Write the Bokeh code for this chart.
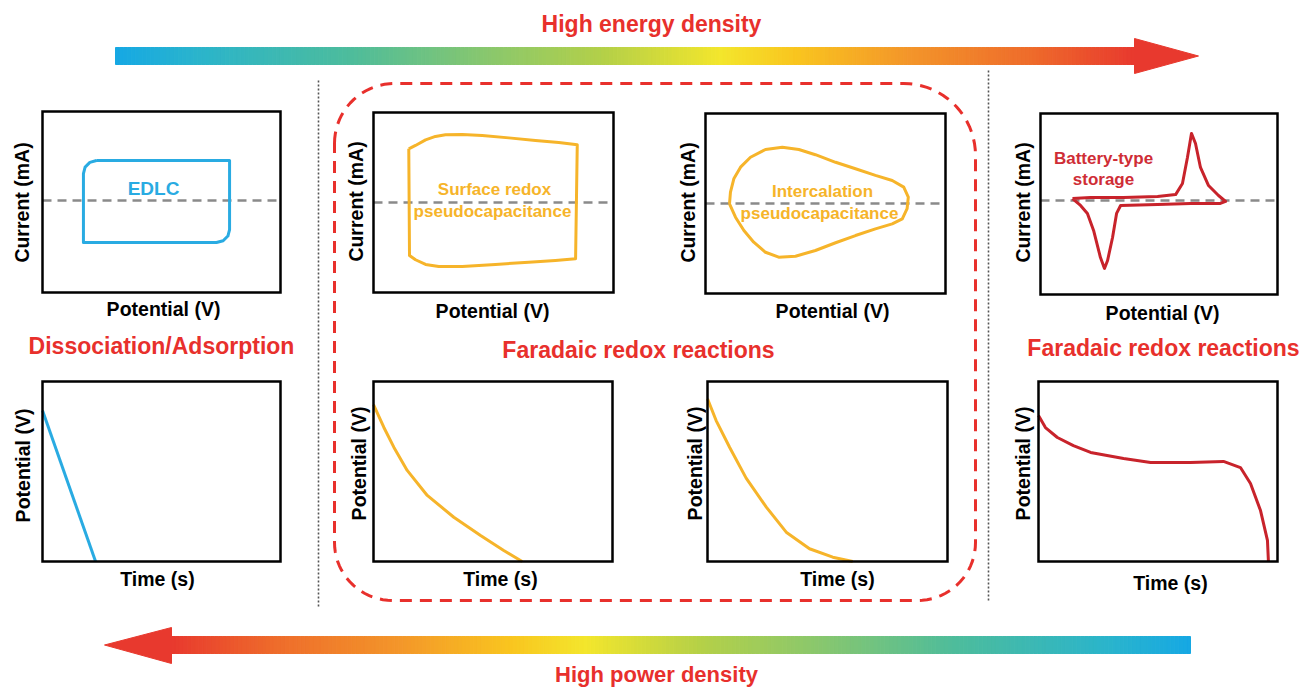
import numpy as np
from bokeh.plotting import figure
from bokeh.models import Range1d
from bokeh.core.properties import value
from bokeh.embed import file_html
from bokeh.resources import INLINE

# ---------------- data (normalised panel units) ----------------
# Cyclic voltammograms: potential (0..1) vs current (0..1)
edlc_cv_v = [0.227, 0.786, 0.786, 0.779, 0.759, 0.731, 0.172, 0.172, 0.179, 0.199, 0.227]
edlc_cv_i = [0.729, 0.729, 0.348, 0.312, 0.286, 0.276, 0.276, 0.657, 0.693, 0.719, 0.729]

surface_cv_v = [0.147, 0.175, 0.217, 0.258, 0.300, 0.370, 0.453, 0.564, 0.675, 0.772, 0.849,
                0.842, 0.758, 0.647, 0.508, 0.370, 0.272, 0.217, 0.175, 0.150, 0.147]
surface_cv_i = [0.798, 0.817, 0.848, 0.867, 0.876, 0.878, 0.872, 0.859, 0.844, 0.833, 0.821,
                0.187, 0.178, 0.168, 0.156, 0.144, 0.144, 0.156, 0.182, 0.206, 0.798]

intercal_cv_v = [0.100, 0.104, 0.118, 0.146, 0.1875, 0.25, 0.320, 0.389, 0.458, 0.542, 0.625,
                 0.708, 0.778, 0.826, 0.845, 0.840, 0.820, 0.778, 0.708, 0.625, 0.542, 0.458,
                 0.375, 0.305, 0.25, 0.201, 0.160, 0.125, 0.100]
intercal_cv_i = [0.498, 0.563, 0.637, 0.702, 0.757, 0.800, 0.813, 0.800, 0.771, 0.729, 0.693,
                 0.656, 0.628, 0.591, 0.535, 0.471, 0.415, 0.387, 0.359, 0.322, 0.282, 0.239,
                 0.207, 0.202, 0.229, 0.285, 0.350, 0.424, 0.498]

battery_cv_v = [0.135, 0.211, 0.350, 0.494, 0.570, 0.599, 0.620, 0.637, 0.654, 0.675, 0.709,
                0.751, 0.781, 0.759, 0.633, 0.494, 0.338, 0.321, 0.304, 0.283, 0.270, 0.253,
                0.224, 0.198, 0.169, 0.135]
battery_cv_i = [0.530, 0.536, 0.536, 0.541, 0.552, 0.613, 0.757, 0.890, 0.834, 0.702, 0.602,
                0.547, 0.514, 0.503, 0.503, 0.497, 0.492, 0.448, 0.315, 0.188, 0.144, 0.204,
                0.354, 0.448, 0.492, 0.530]

cv_zero = [0.508, 0.50, 0.50, 0.519]

# Galvanostatic discharge: time (0..1) vs potential (0..1)
edlc_gcd_t = [0.0, 0.223]
edlc_gcd_v = [0.839, 0.0]
surface_gcd_t = [0.0, 0.043, 0.085, 0.141, 0.225, 0.336, 0.448, 0.545, 0.622]
surface_gcd_v = [0.872, 0.746, 0.635, 0.506, 0.367, 0.246, 0.144, 0.061, 0.0]
intercal_gcd_t = [0.0, 0.036, 0.092, 0.161, 0.245, 0.328, 0.425, 0.522, 0.605]
intercal_gcd_v = [0.904, 0.783, 0.635, 0.463, 0.302, 0.163, 0.071, 0.024, 0.0]
battery_gcd_t = [0.0, 0.029, 0.079, 0.146, 0.218, 0.356, 0.469, 0.636, 0.774, 0.845, 0.887,
                 0.929, 0.958, 0.962]
battery_gcd_v = [0.811, 0.744, 0.689, 0.644, 0.606, 0.572, 0.55, 0.55, 0.556, 0.522, 0.433,
                 0.283, 0.117, 0.0]

# Texts
energy_text = "High energy density"
power_text = "High power density"
section_titles = ["Dissociation/Adsorption", "Faradaic redox reactions", "Faradaic redox reactions"]
cv_xlabel = "Potential (V)"
cv_ylabel = "Current (mA)"
gcd_xlabel = "Time (s)"
gcd_ylabel = "Potential (V)"
edlc_name = "EDLC"
surface_name = ["Surface redox", "pseudocapacitance"]
intercal_name = ["Intercalation", "pseudocapacitance"]
battery_name = ["Battery-type", "storage"]

# Gradient stops (blue -> red)
grad_pos = [0.0, 0.08, 0.23, 0.375, 0.48, 0.594, 0.668, 0.78, 0.90, 1.0]
grad_col = ["#16a8e4", "#2ab4cc", "#4dbc9c", "#8dc86a", "#b4d048", "#f3e62c",
            "#f9c51f", "#f3952a", "#ee6b2b", "#e8392e"]

# ---------------- styles ----------------
FONT = value("Liberation Sans")
RED = "#e8302c"
BLUE = "#29abe2"
YEL = "#f6b42a"
DRED = "#c8232b"
BRED = "#cf2d36"

p = figure(width=1300, height=690, x_range=Range1d(0, 1300), y_range=Range1d(690, 0),
           output_backend="svg", toolbar_location=None, x_axis_location=None,
           y_axis_location=None, min_border=0, outline_line_color=None)
p.grid.visible = False


def hex_rgb(h):
    return np.array([int(h[i:i + 2], 16) for i in (1, 3, 5)], dtype=float)


rgb = np.array([hex_rgb(c) for c in grad_col])


def grad_colors(t):
    out = []
    for tt in t:
        c = [np.interp(tt, grad_pos, rgb[:, k]) for k in range(3)]
        out.append("#%02x%02x%02x" % tuple(int(round(v)) for v in c))
    return out


def gradient_arrow(x_blue, x_red, y_top, y_bot, tip_x, head_top, head_bot):
    n = 260
    edges = np.linspace(x_blue, x_red, n + 1)
    lefts = np.minimum(edges[:-1], edges[1:])
    rights = np.maximum(edges[:-1], edges[1:])
    t = (np.arange(n) + 0.5) / n
    cols = grad_colors(t)
    p.quad(left=lefts, right=rights, top=y_top, bottom=y_bot, fill_color=cols,
           line_color=cols, line_width=1)
    ymid = (y_top + y_bot) / 2
    p.patch(x=[x_red, tip_x, x_red], y=[head_top, ymid, head_bot], fill_color=grad_col[-1],
            line_color=grad_col[-1], line_width=1)


gradient_arrow(115, 1134, 47, 64, 1198, 38, 73)
gradient_arrow(1190, 171, 636, 653, 104, 627, 663)


def label(x, y, txt, size, color, angle=0.0):
    p.text(x=[x], y=[y], text=[txt], text_font=FONT, text_font_style="bold",
           text_font_size=f"{size}px", text_color=color, text_align="center",
           text_baseline="middle", angle=angle)


label(651, 23, energy_text, 23, RED)
label(656, 674, power_text, 22, RED)
label(161, 345, section_titles[0], 23, RED)
label(638, 349, section_titles[1], 23, RED)
label(1163, 347, section_titles[2], 23, RED)

# dotted separators
p.line(x=[318, 318], y=[80, 608], line_color="#555555", line_width=1.6, line_dash="2 2")
p.line(x=[988, 988], y=[70, 600], line_color="#555555", line_width=1.6, line_dash="2 2")

# red dashed rounded box
L, R_, T, B = 334, 975, 83, 600
rtl, rtr, rbr, rbl = 60, 72, 58, 58


def arc(cx, cy, r, a0, a1):
    a = np.linspace(a0, a1, 20)
    return list(cx + r * np.cos(a)), list(cy + r * np.sin(a))


bx, by = [], []
for (cx, cy, r, a0, a1) in [(L + rtl, T + rtl, rtl, np.pi, 1.5 * np.pi),
                            (R_ - rtr, T + rtr, rtr, 1.5 * np.pi, 2 * np.pi),
                            (R_ - rbr, B - rbr, rbr, 0, 0.5 * np.pi),
                            (L + rbl, B - rbl, rbl, 0.5 * np.pi, np.pi)]:
    ax, ay = arc(cx, cy, r, a0, a1)
    bx += ax
    by += ay
bx.append(bx[0])
by.append(by[0])
p.line(x=bx, y=by, line_color=RED, line_width=3, line_dash="12 8")

# panels: (left, right, bottom, top) in page units
top_boxes = [(42, 280, 292, 111), (373, 613, 292, 112), (705, 945, 293, 113), (1040, 1277, 294, 113)]
bot_boxes = [(42, 280, 561, 381), (373, 612, 561, 381), (707, 947, 561, 381), (1038, 1277, 561, 381)]


def panel(box):
    l, r, b, t = box
    return p.subplot(x_source=Range1d(0, 1), y_source=Range1d(0, 1),
                     x_target=Range1d(l, r), y_target=Range1d(b, t))


cv_sets = [(edlc_cv_v, edlc_cv_i, BLUE), (surface_cv_v, surface_cv_i, YEL),
           (intercal_cv_v, intercal_cv_i, YEL), (battery_cv_v, battery_cv_i, DRED)]
gcd_sets = [(edlc_gcd_t, edlc_gcd_v, BLUE), (surface_gcd_t, surface_gcd_v, YEL),
            (intercal_gcd_t, intercal_gcd_v, YEL), (battery_gcd_t, battery_gcd_v, DRED)]

for k, box in enumerate(top_boxes):
    xy = panel(box)
    xv, yv, c = cv_sets[k]
    xy.line(x=[0, 1], y=[cv_zero[k], cv_zero[k]], line_color="#8a8a8a", line_width=2.5,
            line_dash="9 6")
    xy.line(x=xv, y=yv, line_color=c, line_width=3, line_join="round")
    xy.quad(left=[0], right=[1], bottom=[0], top=[1], fill_color=None, line_color="black",
            line_width=2.5, line_join="miter")

for k, box in enumerate(bot_boxes):
    xy = panel(box)
    xv, yv, c = gcd_sets[k]
    xy.line(x=xv, y=yv, line_color=c, line_width=3, line_join="round")
    xy.quad(left=[0], right=[1], bottom=[0], top=[1], fill_color=None, line_color="black",
            line_width=2.5, line_join="miter")

# axis labels
AX = 19.5
for (x, y) in [(163, 308), (492, 310), (832, 310), (1162, 312)]:
    label(x, y, cv_xlabel, AX, "black")
for (x, y) in [(21, 202), (355, 201), (687, 202), (1022, 202)]:
    label(x, y, cv_ylabel, AX, "black", np.pi / 2)
for (x, y) in [(157, 578), (500, 578), (837, 578), (1170, 582)]:
    label(x, y, gcd_xlabel, AX, "black")
for (x, y) in [(22, 465), (358, 463), (694, 463), (1022, 463)]:
    label(x, y, gcd_ylabel, AX, "black", np.pi / 2)

# in-panel names
label(153, 188, edlc_name, 19, BLUE)
label(494, 189, surface_name[0], 17, YEL)
label(492, 211, surface_name[1], 17, YEL)
label(822, 191, intercal_name[0], 17, YEL)
label(819, 213, intercal_name[1], 17, YEL)
label(1103, 158, battery_name[0], 17, BRED)
label(1103, 179, battery_name[1], 17, BRED)

open("out.html", "w").write(file_html(p, INLINE))
